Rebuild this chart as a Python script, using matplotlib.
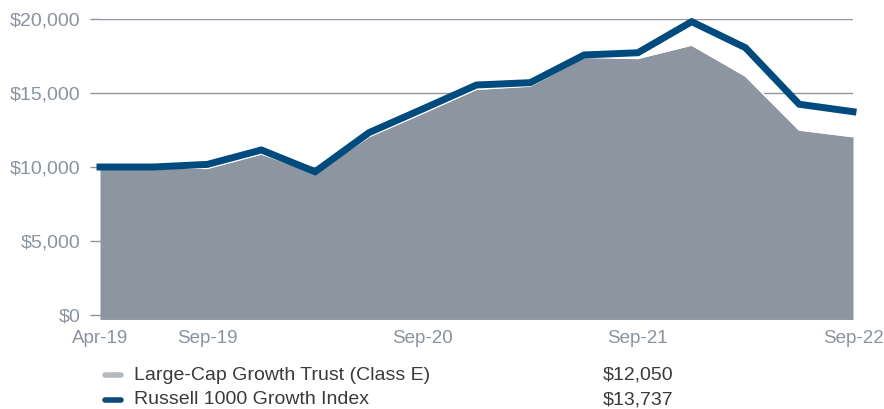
import numpy as np
import matplotlib.pyplot as plt
from matplotlib.lines import Line2D

plt.rcParams['font.family'] = ['Liberation Sans', 'DejaVu Sans']

quarters = ["Apr-19", "Jun-19", "Sep-19", "Dec-19", "Mar-20", "Jun-20", "Sep-20",
            "Dec-20", "Mar-21", "Jun-21", "Sep-21", "Dec-21", "Mar-22", "Jun-22", "Sep-22"]
trust = [10000, 9990, 9910, 10880, 9600, 12050, 13630,
         15250, 15470, 17410, 17340, 18240, 16150, 12500, 12050]
russell = [10000, 10000, 10180, 11150, 9680, 12320, 13920,
           15540, 15700, 17570, 17720, 19820, 18060, 14240, 13737]
shown_ticks = ["Apr-19", "Sep-19", "Sep-20", "Sep-21", "Sep-22"]
yticks = [0, 5000, 10000, 15000, 20000]
legend_names = ["Large-Cap Growth Trust (Class E)", "Russell 1000 Growth Index"]
legend_values = ["$12,050", "$13,737"]

area_col = "#8c95a0"
line_col = "#004b7d"
text_col = "#8a939d"

fig = plt.figure(figsize=(8.84, 4.09), dpi=100)
ax = fig.add_axes([100 / 884, 1 - 319 / 409, 753 / 884, 300 / 409])

x = np.arange(len(quarters))
ax.fill_between(x, trust, -300, color=area_col, lw=0, zorder=2)
ax.plot(x, trust, color="white", lw=1.2, zorder=2.5)
ax.plot(x, russell, color=line_col, lw=5, solid_joinstyle="miter", zorder=3, clip_on=False)

ax.set_xlim(0, len(quarters) - 1)
ax.set_ylim(-270, 20000)
ax.set_yticks(yticks)
ax.set_yticklabels(["${:,}".format(v) for v in yticks])
ax.set_xticks([quarters.index(q) for q in shown_ticks])
ax.set_xticklabels(shown_ticks)
ax.grid(axis="y", color="#8f96a0", lw=1, zorder=1)
ax.set_axisbelow(True)
for s in ax.spines.values():
    s.set_visible(False)
ax.tick_params(axis="y", length=7, width=1, color="#8f96a0", pad=7,
               labelsize=14, labelcolor=text_col)
ax.tick_params(axis="x", length=0, pad=8, labelsize=13.5, labelcolor=text_col)

# legend drawn by hand below the chart
rows_y = [1 - 375 / 409, 1 - 400 / 409]
swatch_cols = ["#b4b9bf", "#0c4a78"]
for yy, name, val, c in zip(rows_y, legend_names, legend_values, swatch_cols):
    fig.add_artist(Line2D([105 / 884, 121 / 884], [yy, yy], color=c, lw=4,
                          solid_capstyle="round", transform=fig.transFigure))
    fig.text(134 / 884, yy, name, va="center", ha="left", fontsize=14, color="#3a3a3a")
    fig.text(603 / 884, yy, val, va="center", ha="left", fontsize=14, color="#3a3a3a")

fig.savefig("out.png", dpi=100)
